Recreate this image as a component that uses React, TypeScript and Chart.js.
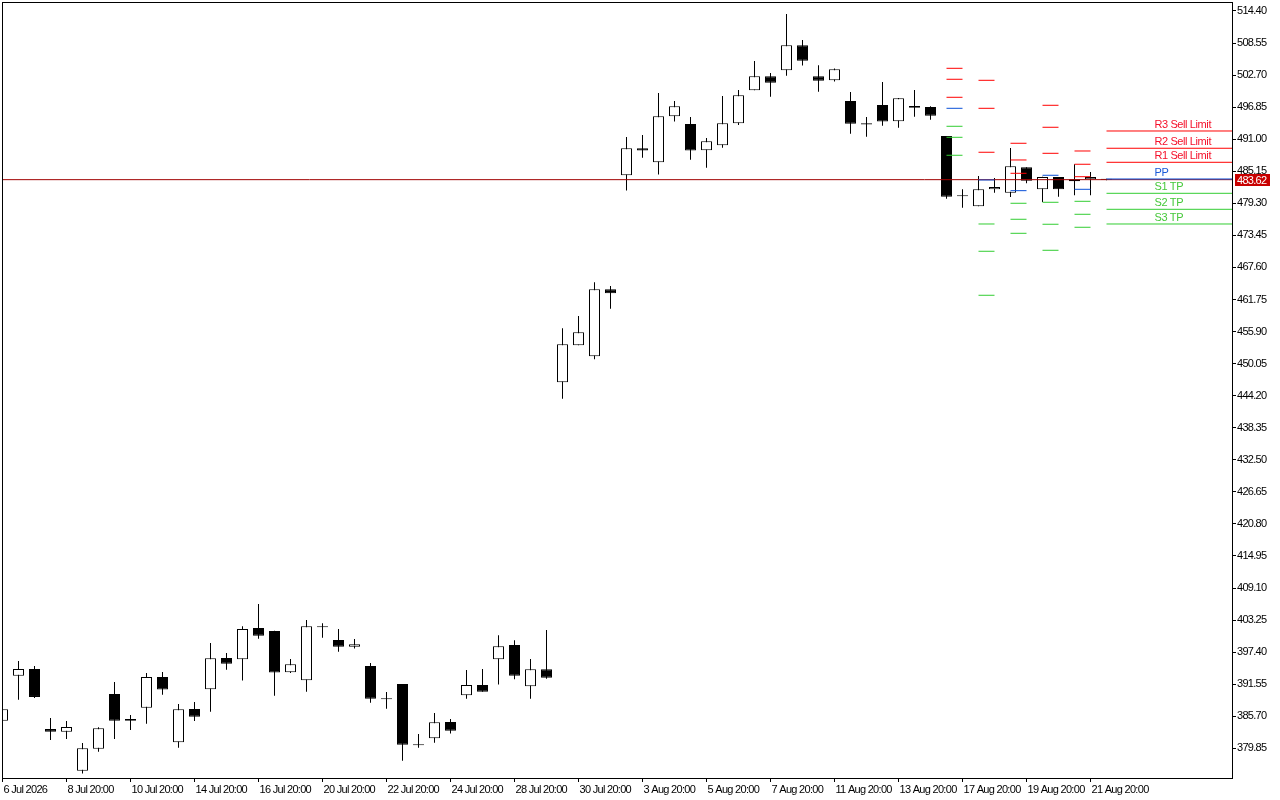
import React, { useEffect, useRef } from "react";
import { Chart, registerables } from "chart.js";

Chart.register(...registerables);

// ---- Candle data (one candle per slot, index 0..69) ----
const openPrices = [
  384.9, 393.11, 394.33, 383.38, 382.89, 375.77, 379.79, 389.76, 385.2, 387.27,
  392.87, 380.94, 387.03, 390.62, 396.33, 396.09, 401.81, 401.26, 393.72, 392.26,
  402.05, 399.62, 398.4, 394.87, 389.0, 391.59, 380.6, 381.67, 384.65, 389.52,
  391.41, 396.09, 398.71, 391.16, 394.27, 446.64, 453.39, 451.39, 463.61, 484.41,
  489.34, 486.79, 495.18, 493.78, 488.98, 489.89, 493.9, 499.93, 502.48, 503.58,
  508.14, 502.48, 501.75, 497.98, 493.9, 497.25, 494.27, 497.07, 496.88, 491.59,
  480.6, 478.75, 481.85, 481.25, 485.87, 481.85, 484.1, 483.31, 483.7, 483.75,
];
const highPrices = [
  387.4, 395.79, 394.87, 385.38, 384.84, 380.82, 383.68, 391.95, 385.93, 393.6,
  393.78, 387.94, 388.3, 399.07, 397.25, 402.11, 406.19, 401.3, 396.15, 403.27,
  402.66, 401.63, 399.8, 395.42, 390.13, 391.59, 382.47, 386.3, 385.2, 394.14,
  394.33, 400.47, 399.56, 396.15, 401.44, 456.5, 458.75, 464.89, 464.22, 491.41,
  491.77, 499.44, 497.98, 495.06, 491.23, 498.89, 499.99, 505.28, 503.09, 513.86,
  509.11, 504.49, 503.9, 499.62, 495.06, 501.45, 498.5, 499.99, 497.0, 491.6,
  481.85, 484.29, 483.92, 489.4, 485.9, 484.15, 484.12, 486.42, 485.02, 483.8,
];
const lowPrices = [
  384.5, 388.73, 389.03, 381.37, 381.55, 375.23, 379.24, 381.55, 383.19, 384.35,
  389.64, 379.97, 384.84, 386.54, 394.2, 392.2, 399.86, 389.46, 393.6, 390.19,
  400.04, 397.49, 398.04, 388.18, 387.09, 377.6, 379.97, 380.88, 382.53, 388.91,
  390.19, 391.47, 392.44, 388.91, 392.56, 443.66, 453.39, 450.84, 460.08, 481.62,
  487.64, 484.54, 494.21, 487.27, 485.81, 489.46, 493.6, 499.93, 498.77, 502.6,
  504.43, 499.68, 501.51, 492.02, 491.47, 493.48, 493.11, 495.12, 494.57, 480.15,
  478.51, 478.75, 481.25, 480.46, 482.95, 479.54, 480.52, 480.76, 480.76, 483.5,
];
const closePrices = [
  386.97, 394.33, 389.22, 382.89, 383.74, 379.85, 383.5, 384.9, 384.9, 392.87,
  390.56, 386.97, 385.63, 396.27, 395.3, 401.63, 400.41, 393.66, 395.18, 402.11,
  401.93, 398.4, 398.83, 388.91, 388.8, 380.52, 380.4, 384.59, 383.07, 391.41,
  390.19, 398.46, 393.11, 394.27, 392.74, 453.58, 455.77, 463.61, 462.88, 489.34,
  488.92, 495.18, 497.01, 488.92, 490.62, 493.9, 499.01, 502.48, 501.32, 508.14,
  505.34, 501.69, 503.76, 493.84, 493.7, 494.21, 498.47, 496.76, 495.3, 480.52,
  480.64, 481.85, 482.28, 486.05, 483.44, 484.1, 481.85, 483.68, 484.1, 483.62,
];

// ---- Axis labels ----
const xTickLabels = [
  "6 Jul 2026", "8 Jul 20:00", "10 Jul 20:00", "14 Jul 20:00", "16 Jul 20:00",
  "20 Jul 20:00", "22 Jul 20:00", "24 Jul 20:00", "28 Jul 20:00", "30 Jul 20:00",
  "3 Aug 20:00", "5 Aug 20:00", "7 Aug 20:00", "11 Aug 20:00", "13 Aug 20:00",
  "17 Aug 20:00", "19 Aug 20:00", "21 Aug 20:00",
];
const xTickStep = 4;
const yTickLabels = [
  "379.85", "385.70", "391.55", "397.40", "403.25", "409.10", "414.95", "420.80",
  "426.65", "432.50", "438.35", "444.20", "450.05", "455.90", "461.75", "467.60",
  "473.45", "479.30", "485.15", "491.00", "496.85", "502.70", "508.55", "514.40",
];

// ---- Pivot levels per day (each day spans two candle slots) ----
const pivotDayStart = [59, 61, 63, 65, 67, 69];
const pivotR3 = [503.94, 501.75, 490.26, 497.19, 488.85, 492.5];
const pivotR2 = [501.94, 496.64, 487.21, 493.18, 486.43, 489.35];
const pivotR1 = [498.65, 488.62, 484.78, 488.43, 484.16, 486.79];
const pivotPP = [496.64, 483.56, 481.61, 484.42, 481.86, 483.74];
const pivotS1 = [493.36, 475.53, 479.31, 479.49, 479.67, 481.13];
const pivotS2 = [491.35, 470.55, 476.39, 475.48, 477.3, 478.21];
const pivotS3 = [488.07, 462.52, 473.83, 470.73, 474.93, 475.53];
const pivotNames = ["R3 Sell Limit", "R2 Sell Limit", "R1 Sell Limit", "PP", "S1 TP", "S2 TP", "S3 TP"];

const lastPrice = 483.62;

// ---- View range ----
const X_MIN = -0.03125;
const X_MAX = 76.84375;
const Y_MIN = 374.43;
const Y_MAX = 516.04;
const LABEL_X = 72;

// ---- Styles ----
const RED = "#ff0000";
const BLUE = "#0a50d8";
const GREEN = "#32cd32";
const levelLineColors = [RED, RED, RED, BLUE, GREEN, GREEN, GREEN];
const levelTextColors = ["#f5102a", "#f5102a", "#f5102a", "#1a5ad8", "#46c83a", "#46c83a", "#46c83a"];
const FONT_FAMILY = "'Liberation Sans', Arial, sans-serif";
const TEXT_SPACING = "-0.7px";

const pivotLevels = [pivotR3, pivotR2, pivotR1, pivotPP, pivotS1, pivotS2, pivotS3];

function buildPivotData(levels: number[]) {
  const pts: { x: number; y: number | null }[] = [];
  levels.forEach((v, d) => {
    const start = pivotDayStart[d];
    const end = d === pivotDayStart.length - 1 ? X_MAX : start + 1;
    pts.push({ x: start, y: v });
    pts.push({ x: end, y: v });
    pts.push({ x: end + 0.5, y: null });
  });
  return pts;
}

const overlayPlugin = {
  id: "mtOverlay",
  beforeDraw(chart: any) {
    try {
      (chart.ctx as any).letterSpacing = TEXT_SPACING;
    } catch (e) {
      /* ignore */
    }
  },
  afterDraw(chart: any) {
    const { ctx, chartArea, scales } = chart;
    const xs = scales.x;
    const ys = scales.y;
    ctx.save();
    // frame
    ctx.strokeStyle = "#000";
    ctx.lineWidth = 1;
    ctx.strokeRect(
      chartArea.left + 0.5,
      chartArea.top + 0.5,
      chartArea.right - chartArea.left,
      chartArea.bottom - chartArea.top
    );
    // level labels
    (ctx as any).letterSpacing = "-0.4px";
    ctx.font = `11px ${FONT_FAMILY}`;
    ctx.textAlign = "left";
    ctx.textBaseline = "alphabetic";
    const lx = xs.getPixelForValue(LABEL_X);
    pivotLevels.forEach((arr, k) => {
      const y = ys.getPixelForValue(arr[arr.length - 1]);
      ctx.fillStyle = levelTextColors[k];
      ctx.fillText(pivotNames[k], lx, y - 3);
    });
    // current price box on the axis
    const py = Math.round(ys.getPixelForValue(lastPrice));
    ctx.fillStyle = "#c80000";
    ctx.fillRect(chartArea.right + 3, py - 6, 35, 12);
    ctx.fillStyle = "#ffffff";
    (ctx as any).letterSpacing = TEXT_SPACING;
    ctx.font = `11px ${FONT_FAMILY}`;
    ctx.textBaseline = "middle";
    ctx.fillText(lastPrice.toFixed(2), chartArea.right + 5, py + 0.5);
    ctx.restore();
  },
};

export default function App() {
  const canvasRef = useRef<HTMLCanvasElement | null>(null);

  useEffect(() => {
    if (!canvasRef.current) return;
    const idx = openPrices.map((_, i) => i);
    const bodyColors = idx.map((i) => (closePrices[i] >= openPrices[i] ? "#ffffff" : "#000000"));

    const datasets: any[] = [];
    pivotLevels.forEach((lv, k) => {
      datasets.push({
        type: "line",
        label: pivotNames[k],
        data: buildPivotData(lv),
        borderColor: levelLineColors[k],
        borderWidth: 1,
        pointRadius: 0,
        spanGaps: false,
        tension: 0,
        order: 1,
        clip: 0,
      });
    });
    datasets.push({
      type: "line",
      label: "Bid",
      data: [
        { x: X_MIN, y: lastPrice },
        { x: X_MAX, y: lastPrice },
      ],
      borderColor: "#a00000",
      borderWidth: 1,
      pointRadius: 0,
      order: 2,
      clip: 0,
    });
    datasets.push({
      type: "bar",
      label: "Body",
      data: idx.map((i) => ({ x: i, y: [openPrices[i], closePrices[i]] })),
      backgroundColor: bodyColors,
      borderColor: "#000000",
      borderWidth: 1,
      borderSkipped: false,
      barThickness: 11,
      minBarLength: 1,
      inflateAmount: 0,
      grouped: false,
      order: 3,
      clip: 0,
    });
    datasets.push({
      type: "bar",
      label: "Wick",
      data: idx.map((i) => ({ x: i, y: [lowPrices[i], highPrices[i]] })),
      backgroundColor: "#000000",
      borderWidth: 0,
      barThickness: 1,
      inflateAmount: 0,
      grouped: false,
      order: 4,
      clip: 0,
    });

    const tickFont = { family: FONT_FAMILY, size: 11 };

    const chart = new Chart(canvasRef.current, {
      type: "bar",
      data: { datasets },
      plugins: [overlayPlugin],
      options: {
        responsive: false,
        animation: false,
        devicePixelRatio: 1,
        events: [],
        layout: { padding: { left: 2, top: 2, right: 0, bottom: 0 } },
        plugins: { legend: { display: false }, tooltip: { enabled: false } },
        scales: {
          x: {
            type: "linear",
            min: X_MIN,
            max: X_MAX,
            offset: false,
            bounds: "data",
            grid: {
              display: true,
              drawOnChartArea: false,
              drawTicks: true,
              tickLength: 4,
              color: "#000000",
              offset: false,
            },
            border: { display: true, color: "#000000" },
            ticks: {
              autoSkip: false,
              maxRotation: 0,
              minRotation: 0,
              align: "start",
              labelOffset: 1,
              padding: 1,
              color: "#000000",
              font: tickFont,
              callback: (_v: any, i: number) => xTickLabels[i] ?? "",
            },
            afterBuildTicks: (s: any) => {
              s.ticks = xTickLabels.map((_, i) => ({ value: i * xTickStep }));
            },
            afterFit: (s: any) => {
              s.height = 22;
              s.paddingLeft = 0;
              s.paddingRight = 0;
            },
          },
          y: {
            type: "linear",
            position: "right",
            min: Y_MIN,
            max: Y_MAX,
            bounds: "data",
            beginAtZero: false,
            grid: {
              display: true,
              drawOnChartArea: false,
              drawTicks: true,
              tickLength: 4,
              color: "#000000",
            },
            border: { display: true, color: "#000000" },
            ticks: {
              autoSkip: false,
              padding: 1,
              color: "#000000",
              font: tickFont,
              callback: (_v: any, i: number) => yTickLabels[i] ?? "",
            },
            afterBuildTicks: (s: any) => {
              s.ticks = yTickLabels.map((t) => ({ value: parseFloat(t) }));
            },
            afterFit: (s: any) => {
              s.width = 48;
              s.paddingTop = 0;
              s.paddingBottom = 0;
            },
          },
        },
      } as any,
    });

    return () => chart.destroy();
  }, []);

  return (
    <div style={{ position: "fixed", left: 0, top: 0, width: 1280, height: 800, background: "#ffffff" }}>
      <canvas ref={canvasRef} width={1280} height={800} style={{ display: "block" }} />
    </div>
  );
}
